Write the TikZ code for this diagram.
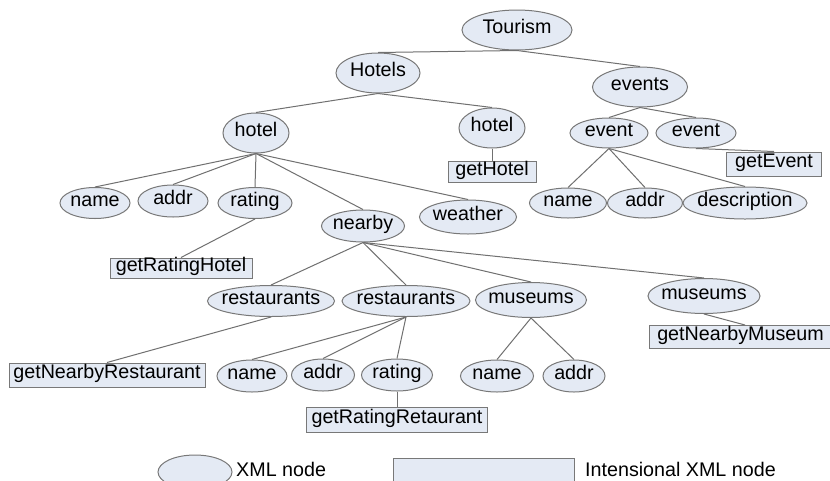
\documentclass[tikz,border=0pt]{standalone}
\usepackage{fontspec}
\setmainfont{Liberation Sans}
\usetikzlibrary{shapes.geometric}
\definecolor{nodefill}{HTML}{E4EAF4}
\definecolor{nodeline}{HTML}{787878}
\definecolor{edgecol}{HTML}{707070}
\newcommand\zw[1]{\makebox[0pt]{#1}}
\tikzset{
  xn/.style={ellipse, draw=nodeline, fill=nodefill, line width=1pt, inner sep=0pt,
    text height=1.45ex, text depth=0.3ex},
  ixn/.style={rectangle, draw=nodeline, fill=nodefill, line width=1pt, inner sep=0pt,
    text height=1.45ex, text depth=0.3ex},
  edge/.style={draw=edgecol, line width=1pt},
  lbl/.style={inner sep=0pt, anchor=west}
}
\begin{document}
\begin{tikzpicture}[x=1pt, y=-1pt, font=\fontsize{19.7}{22}\selectfont]
\useasboundingbox (0,0) rectangle (830,480);
\clip (0,0) rectangle (830,480);
\fill[white] (0,0) rectangle (830,480);
% XML nodes
\node[xn, minimum width=110, minimum height=40] (tourism) at (517,30) {\zw{Tourism}};
\node[xn, minimum width=84, minimum height=40] (hotels) at (378,73) {\zw{Hotels}};
\node[xn, minimum width=95, minimum height=40] (events) at (640,87) {\zw{events}};
\node[xn, minimum width=66, minimum height=40] (hotelL) at (256,133) {\zw{hotel}};
\node[xn, minimum width=66, minimum height=40] (hotelR) at (492,128) {\zw{hotel}};
\node[ixn, minimum width=88, minimum height=21] (getHotel) at (492,172) {getHotel};
\node[xn, minimum width=78, minimum height=30] (eventL) at (609,133) {\zw{event}};
\node[xn, minimum width=80, minimum height=30] (eventR) at (696,133) {\zw{event}};
\node[ixn, minimum width=95, minimum height=24] (getEvent) at (774,164) {getEvent};
\node[xn, minimum width=77, minimum height=30] (ename) at (568,203) {\zw{name}};
\node[xn, minimum width=75, minimum height=30] (eaddr) at (645,203) {\zw{addr}};
\node[xn, minimum width=124, minimum height=32] (edesc) at (745,203) {\zw{description}};
\node[xn, minimum width=70, minimum height=31] (hname) at (95,203) {\zw{name}};
\node[xn, minimum width=70, minimum height=32] (haddr) at (173,201) {\zw{addr}};
\node[xn, minimum width=74, minimum height=31] (hrating) at (255,203) {\zw{rating}};
\node[xn, minimum width=83, minimum height=32] (nearby) at (363,226) {\zw{nearby}};
\node[xn, minimum width=97, minimum height=34] (weather) at (468,217) {\zw{weather}};
\node[ixn, minimum width=142, minimum height=20] (getRatingHotel) at (181,268) {getRatingHotel};
\node[xn, minimum width=127, minimum height=31] (rest1) at (271,301) {\zw{restaurants}};
\node[xn, minimum width=128, minimum height=31] (rest2) at (406,301) {\zw{restaurants}};
\node[xn, minimum width=111, minimum height=35] (mus1) at (531,300) {\zw{museums}};
\node[xn, minimum width=112, minimum height=35] (mus2) at (704,296) {\zw{museums}};
\node[ixn, minimum width=188, minimum height=23, anchor=west, align=left, inner xsep=4pt] (getNearbyMuseum) at (649,337) {getNearbyMuseum\hspace*{6pt}};
\node[ixn, minimum width=196, minimum height=24] (getNearbyRestaurant) at (107,375) {getNearbyRestaurant};
\node[xn, minimum width=70, minimum height=32] (rname) at (252,376) {\zw{name}};
\node[xn, minimum width=63, minimum height=32] (raddr) at (323,375) {\zw{addr}};
\node[xn, minimum width=71, minimum height=32] (rrating) at (397,375) {\zw{rating}};
\node[ixn, minimum width=181, minimum height=25] (getRatingRetaurant) at (397,420) {getRatingRetaurant};
\node[xn, minimum width=73, minimum height=32] (mname) at (497,376) {\zw{name}};
\node[xn, minimum width=62, minimum height=32] (maddr) at (574,376) {\zw{addr}};
% legend
\node[xn, minimum width=74, minimum height=34] (legE) at (195,472) {};
\node[lbl] (legEt) at (236,469) {XML node};
\node[ixn, minimum width=181, minimum height=34, anchor=north west] (legR) at (393,458) {};
\node[lbl] (legRt) at (585,469) {Intensional XML node};
% edges
\foreach \p/\c in {tourism/hotels, tourism/events, hotels/hotelL, hotels/hotelR,
  hotelR/getHotel, events/eventL, events/eventR, eventR/getEvent,
  eventL/ename, eventL/eaddr, eventL/edesc,
  hotelL/hname, hotelL/haddr, hotelL/hrating, hotelL/nearby, hotelL/weather,
  hrating/getRatingHotel,
  nearby/rest1, nearby/rest2, nearby/mus1, nearby/mus2,
  rest1/getNearbyRestaurant, rest2/rname, rest2/raddr, rest2/rrating,
  rrating/getRatingRetaurant, mus1/mname, mus1/maddr}
  \draw[edge] (\p.south) -- (\c.north);
\draw[edge] (mus2.south) -- (getNearbyMuseum.north -| 745,0);
\end{tikzpicture}
\end{document}
